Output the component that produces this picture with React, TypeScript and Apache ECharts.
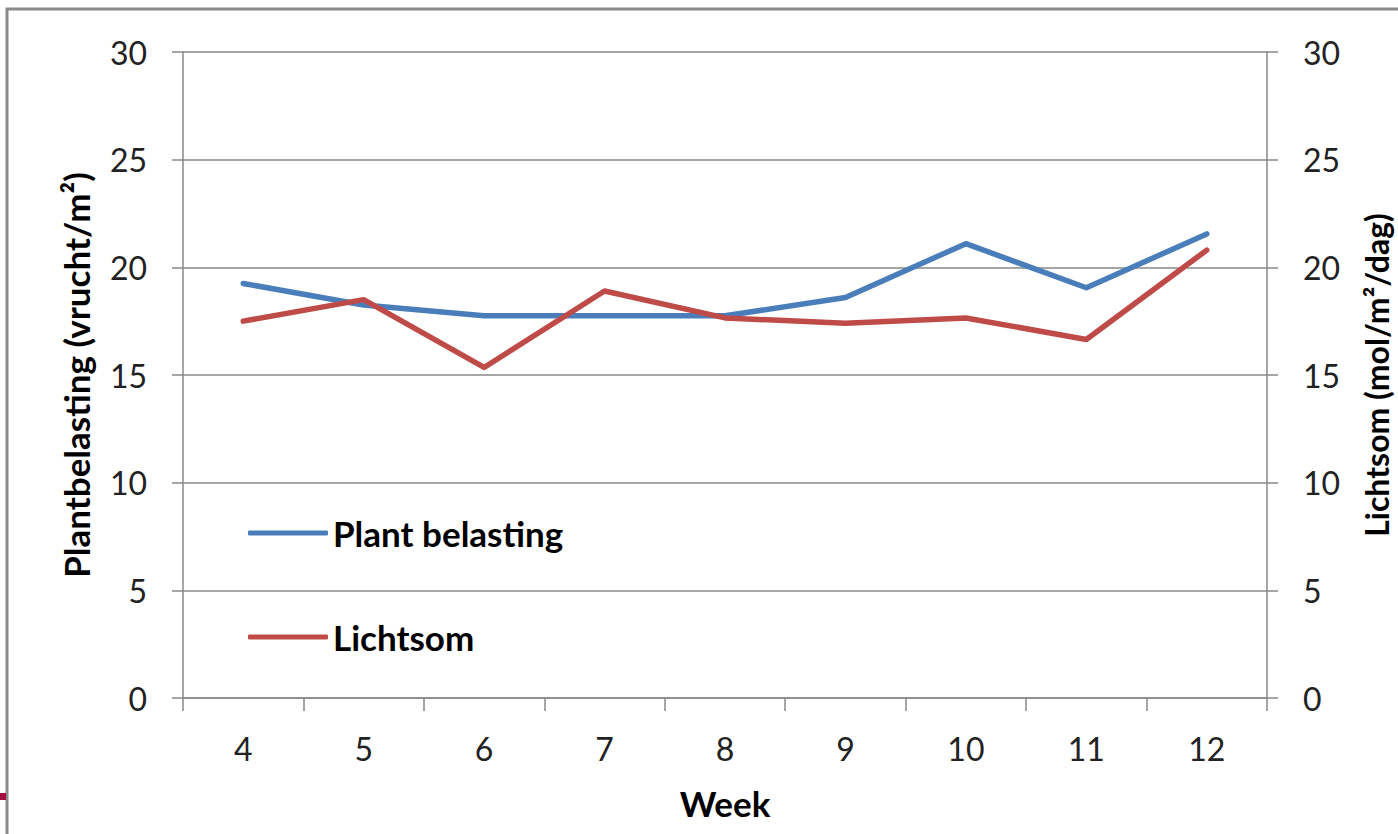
import React, { useEffect, useRef } from "react";
import * as echarts from "echarts";

const weeks = ["4", "5", "6", "7", "8", "9", "10", "11", "12"];
const plantBelasting = [19.25, 18.25, 17.75, 17.75, 17.75, 18.6, 21.1, 19.05, 21.55];
const lichtsom = [17.5, 18.5, 15.35, 18.9, 17.65, 17.4, 17.65, 16.65, 20.8];
const seriesNames = ["Plant belasting", "Lichtsom"];
const leftTitle = "Plantbelasting (vrucht/m²)";
const rightTitle = "Lichtsom (mol/m²/dag)";
const xTitle = "Week";

const FONT = "Lato";
const GRAY = "#898989";

export default function App() {
  const ref = useRef<HTMLDivElement>(null);
  useEffect(() => {
    if (!ref.current) return;
    const chart = echarts.init(ref.current, null, { renderer: "svg" });
    const yAxisCommon = {
      type: "value",
      min: 0,
      max: 30,
      interval: 5,
      nameLocation: "middle",
      nameRotate: 90,
      nameTextStyle: { fontFamily: FONT, fontSize: 35, fontWeight: "bold", color: "#000" },
      axisLine: { show: true, lineStyle: { color: GRAY, width: 1.5 } },
      axisTick: { show: true, length: 11, lineStyle: { color: GRAY, width: 1.5 } },
      axisLabel: { fontFamily: FONT, fontSize: 32, color: "#222", margin: 36 },
      splitLine: { show: true, lineStyle: { color: GRAY, width: 1.5 } },
    };
    chart.setOption({
      animation: false,
      backgroundColor: "#fff",
      grid: { left: 183, width: 1084, top: 52, height: 646, outerBoundsMode: "none", containLabel: false },
      legend: {
        orient: "vertical",
        left: 248,
        top: 513,
        padding: 0,
        itemWidth: 80,
        itemHeight: 5,
        itemGap: 64,
        icon: "roundRect",
        textStyle: { fontFamily: FONT, fontSize: 35, fontWeight: "bold", color: "#000", lineHeight: 40 },
        data: seriesNames,
      },
      xAxis: {
        type: "category",
        data: weeks,
        boundaryGap: true,
        name: xTitle,
        nameLocation: "middle",
        nameGap: 87,
        nameTextStyle: { fontFamily: FONT, fontSize: 35, fontWeight: "bold", color: "#000" },
        axisLine: { show: true, lineStyle: { color: GRAY, width: 1.5 } },
        axisTick: { show: true, length: 13, lineStyle: { color: GRAY, width: 1.5 } },
        axisLabel: { fontFamily: FONT, fontSize: 32, color: "#222", margin: 34 },
      },
      yAxis: [
        { ...yAxisCommon, position: "left", name: leftTitle, nameGap: 90 },
        {
          ...yAxisCommon,
          position: "right",
          name: rightTitle,
          nameGap: 93,
          nameTextStyle: { fontFamily: FONT, fontSize: 32, fontWeight: "bold", color: "#000" },
          splitLine: { show: false },
        },
      ],
      graphic: [
        {
          type: "rect",
          shape: { x: 7, y: 9, width: 1420, height: 900 },
          style: { fill: "none", stroke: "#8a8a8a", lineWidth: 3 },
          silent: true,
        },
        {
          type: "rect",
          shape: { x: 0, y: 793, width: 6, height: 7 },
          style: { fill: "#A3103F" },
          silent: true,
        },
      ],
      series: [
        {
          name: seriesNames[0],
          type: "line",
          data: plantBelasting,
          yAxisIndex: 0,
          symbol: "none",
          lineStyle: { color: "#4A7EBB", width: 5.5, cap: "round", join: "round" },
          itemStyle: { color: "#4A7EBB" },
        },
        {
          name: seriesNames[1],
          type: "line",
          data: lichtsom,
          yAxisIndex: 1,
          symbol: "none",
          lineStyle: { color: "#BE4B48", width: 5.5, cap: "round", join: "round" },
          itemStyle: { color: "#BE4B48" },
        },
      ],
    });
    return () => chart.dispose();
  }, []);
  return (
    <div
      ref={ref}
      style={{ position: "fixed", left: 0, top: 0, width: 1398, height: 834, background: "#fff" }}
    />
  );
}
